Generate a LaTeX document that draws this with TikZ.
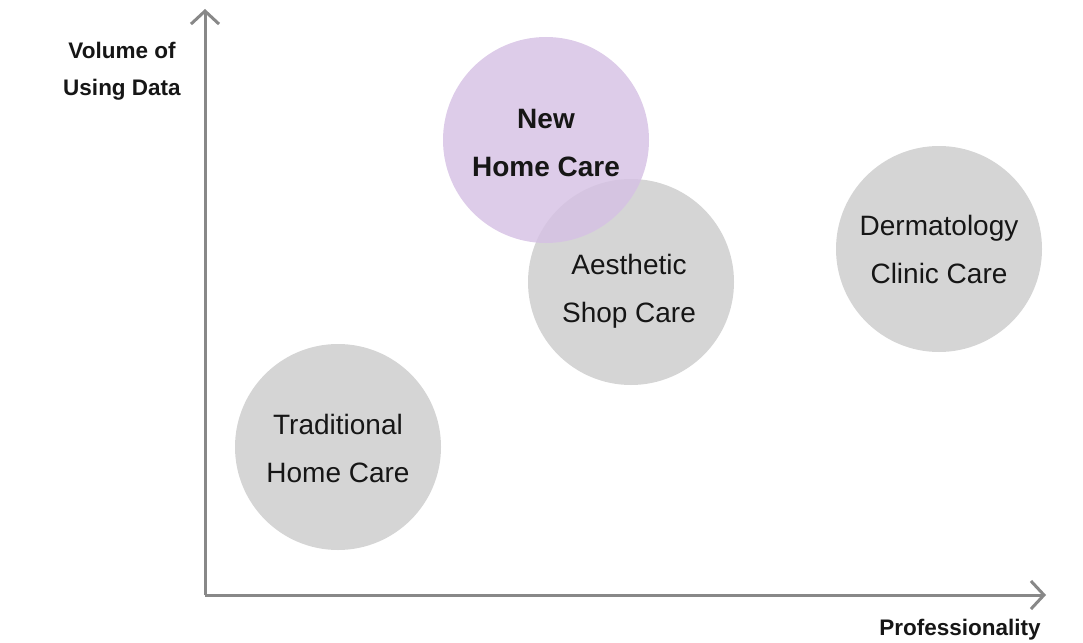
\documentclass[tikz,border=0pt]{standalone}
\usepackage{fontspec}
\setmainfont{Liberation Sans}
\usetikzlibrary{arrows.meta}
\definecolor{axisgray}{RGB}{136,136,136}
\definecolor{bubblegray}{RGB}{213,213,213}
\definecolor{bubblepurple}{RGB}{214,193,228}
\definecolor{inkdark}{RGB}{22,22,22}
\begin{document}
\begin{tikzpicture}[x=1pt,y=-1pt,
  bubble/.style={circle, minimum size=206pt, inner sep=0pt},
  graybubble/.style={bubble, fill=bubblegray},
  newbubble/.style={bubble, fill=bubblepurple, fill opacity=0.82},
  bubbletext/.style={align=center, text=inkdark, font=\fontsize{28}{48}\selectfont},
  newtext/.style={bubbletext, font=\fontsize{28}{48}\selectfont\bfseries},
  axis/.style={draw=axisgray, line width=3pt,
    -{Straight Barb[length=13pt,width=28pt,line width=3pt]}},
  axislabel/.style={text=inkdark, align=center, font=\fontsize{22.5}{37}\selectfont\bfseries}
]
\useasboundingbox (0,0) rectangle (1083,642);

% axes
\coordinate (origin) at (205,595);
\coordinate (ytip) at (205,9);
\coordinate (xtip) at (1046,595);
\draw[axis] (origin) -- (ytip);
\draw[axis] (origin) -- (xtip);

% axis titles
\node[axislabel] (ylab) at (122,71) {Volume of\\Using Data};
\node[axislabel] (xlab) at (960,630) {Professionality};

% bubbles
\node[graybubble] (trad) at (338,447) {};
\node[graybubble] (shop) at (631,282) {};
\node[graybubble] (derm) at (939,249) {};
\node[newbubble] (new) at (546,140) {};

% bubble captions
\node[bubbletext] (tradtext) at ([yshift=-1pt]trad.center) {Traditional\\Home Care};
\node[bubbletext] (shoptext) at ([xshift=-2pt,yshift=-9pt]shop.center) {Aesthetic\\Shop Care};
\node[bubbletext] (dermtext) at (derm.center) {Dermatology\\Clinic Care};
\node[newtext] (newtext) at ([yshift=-3pt]new.center) {New\\Home Care};
\end{tikzpicture}
\end{document}
